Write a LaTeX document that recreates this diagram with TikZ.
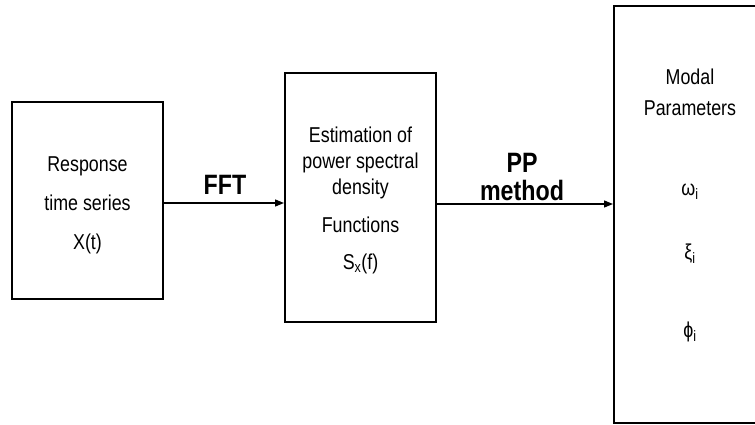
\documentclass[tikz,border=0pt]{standalone}
\usepackage{fontspec}
\setmainfont{Liberation Sans}[FakeStretch=0.83]
\usetikzlibrary{arrows.meta}
\tikzset{
  blk/.style={draw, line width=2pt},
  txt/.style={align=center, font=\fontsize{21.5}{26}\selectfont},
  flow/.style={line width=1.3pt, -{Triangle[length=9pt,width=7pt]}},
  tag/.style={font=\fontsize{28}{28}\selectfont\bfseries, align=center}
}
\begin{document}
\begin{tikzpicture}[x=1pt,y=-1pt]
  %%%%% START %%%%%
  \useasboundingbox (0,0) rectangle (755,424);
  \clip (0,0) rectangle (755,424);

  % blocks
  \node[blk, minimum width=151, minimum height=197] (resp) at (87.5,200.5) {};
  \node[blk, minimum width=151, minimum height=249] (psd) at (360.5,197.5) {};
  \node[blk, minimum width=152, minimum height=417] (modal) at (690,214.5) {};

  % block texts
  \node[txt] (resptxt) at (87.5,205)
    {Response\\[13pt] time series\\[13pt] X(t)};
  \node[txt] (psdtxt) at (360.5,200)
    {Estimation of\\ power spectral\\ density\\[12pt] Functions\\[11pt] S\textsubscript{x}(f)};
  \node[txt] (param) at (690,205.5)
    {Modal\\[5pt] Parameters\\[54pt] ω\textsubscript{i}\\[38pt] ξ\textsubscript{i}\\[52pt] ϕ\textsubscript{i}};

  % arrows
  \draw[flow] (resp.east |- 0,203) -- (psd.west |- 0,203);
  \draw[flow] (psd.east |- 0,204) -- (modal.west |- 0,204);

  \node[tag] (fft) at (225,185) {FFT};
  \node[tag] (pp) at (522,177) {PP\\ method};
  %%%%% END %%%%%
\end{tikzpicture}
\end{document}
